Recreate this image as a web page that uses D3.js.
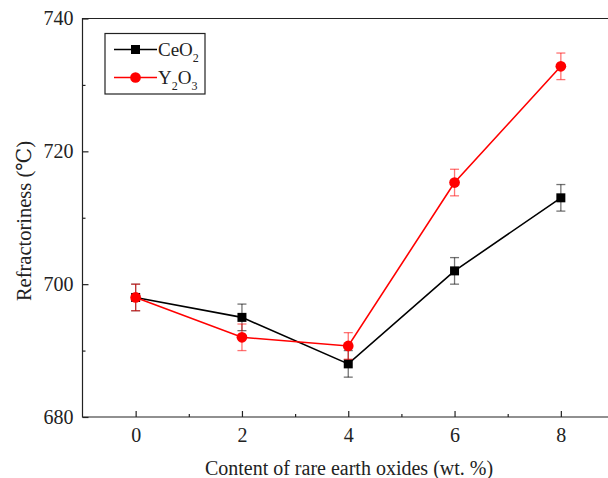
<!DOCTYPE html>
<html><head><meta charset="utf-8">
<script src="https://cdn.jsdelivr.net/npm/d3@7"></script>
<style>body{margin:0;background:#fff}svg{display:block}text{font-family:"Liberation Serif","Times New Roman","DejaVu Serif",serif !important;fill:#222}</style>
</head><body>
<script>
const xValues = [0, 2, 4, 6, 8];
const ceo2 = [698, 695, 688, 702, 713];
const ceo2Err = [2, 2, 2, 2, 2];
const y2o3 = [698, 692, 690.7, 715.3, 732.8];
const y2o3Err = [2, 2, 2, 2, 2];
const xTicks = [0, 2, 4, 6, 8];
const yTicks = [680, 700, 720, 740];

const W = 608, H = 478;
const FONT = '"Liberation Serif","Times New Roman",serif';
const svg = d3.select("body").append("svg").attr("width", W).attr("height", H);
const x = d3.scaleLinear().domain([-1, 9]).range([82.5, 614]);
const y = d3.scaleLinear().domain([680, 740]).range([417, 18.5]);

// frame
svg.append("path").attr("d", `M${x(9)},${y(740)}H${x(-1)}V${y(680)}H${x(9)}`)
  .attr("fill", "none").attr("stroke", "#222").attr("stroke-width", 1.2);

// x axis
const gx = svg.append("g").attr("transform", `translate(0,${y(680)})`)
  .call(d3.axisBottom(x).tickValues(xTicks).tickSize(-6).tickPadding(11).tickFormat(d3.format("d")));
gx.select(".domain").remove();
gx.selectAll("text").attr("font-size", 20).style("font-family", FONT);
svg.append("g").attr("transform", `translate(0,${y(680)})`)
  .call(d3.axisBottom(x).tickValues([1,3,5,7]).tickSize(-3).tickFormat(""))
  .select(".domain").remove();

// y axis
const gy = svg.append("g").attr("transform", `translate(${x(-1)},0)`)
  .call(d3.axisLeft(y).tickValues(yTicks).tickSize(-6).tickPadding(9).tickFormat(d3.format("d")));
gy.select(".domain").remove();
gy.selectAll("text").attr("font-size", 20).style("font-family", FONT);
svg.append("g").attr("transform", `translate(${x(-1)},0)`)
  .call(d3.axisLeft(y).tickValues([690,710,730]).tickSize(-3).tickFormat(""))
  .select(".domain").remove();
svg.selectAll(".tick line").attr("stroke", "#222").attr("stroke-width", 1.2);

// titles
svg.append("text").attr("x", 349).attr("y", 475).attr("text-anchor", "middle")
  .attr("font-size", 20).style("font-family", FONT).text("Content of rare earth oxides (wt. %)");
svg.append("text").attr("transform", `translate(31,${y(709.5)}) rotate(-90)`).attr("text-anchor", "middle")
  .attr("font-size", 20.5).style("font-family", FONT).text("Refractoriness (℃)");

function series(vals, errs, color, shape) {
  const data = xValues.map((d, i) => ({x: d, y: vals[i], e: errs[i]}));
  const g = svg.append("g");
  const eb = g.selectAll(".eb").data(data).join("g").attr("stroke", color).attr("stroke-opacity", 0.55).attr("stroke-width", 1.3);
  eb.append("line").attr("x1", d => x(d.x)).attr("x2", d => x(d.x)).attr("y1", d => y(d.y - d.e)).attr("y2", d => y(d.y + d.e));
  eb.append("line").attr("x1", d => x(d.x) - 4.5).attr("x2", d => x(d.x) + 4.5).attr("y1", d => y(d.y - d.e)).attr("y2", d => y(d.y - d.e));
  eb.append("line").attr("x1", d => x(d.x) - 4.5).attr("x2", d => x(d.x) + 4.5).attr("y1", d => y(d.y + d.e)).attr("y2", d => y(d.y + d.e));
  g.append("path").datum(data).attr("fill", "none").attr("stroke", color).attr("stroke-width", 1.6)
    .attr("d", d3.line().x(d => x(d.x)).y(d => y(d.y)));
  const sym = d3.symbol().type(shape).size(shape === d3.symbolSquare ? 81 : 90);
  g.selectAll(".m").data(data).join("path").attr("fill", color)
    .attr("transform", d => `translate(${x(d.x)},${y(d.y)})`).attr("d", sym);
}
series(ceo2, ceo2Err, "#000", d3.symbolSquare);
series(y2o3, y2o3Err, "#ff0000", d3.symbolCircle);

// legend
const lg = svg.append("g");
lg.append("rect").attr("x", 105).attr("y", 33.5).attr("width", 100).attr("height", 60.5)
  .attr("fill", "#fff").attr("stroke", "#222").attr("stroke-width", 1.2);
const items = [{label: "CeO", sub: "2", color: "#000", shape: d3.symbolSquare, yy: 49.5},
               {label: "Y", sub: "2", label2: "O", sub2: "3", color: "#ff0000", shape: d3.symbolCircle, yy: 77.5}];
items.forEach(it => {
  lg.append("line").attr("x1", 114).attr("x2", 157).attr("y1", it.yy).attr("y2", it.yy).attr("stroke", it.color).attr("stroke-width", 1.6);
  lg.append("path").attr("transform", `translate(135.5,${it.yy})`).attr("fill", it.color)
    .attr("d", d3.symbol().type(it.shape).size(it.shape === d3.symbolSquare ? 81 : 90)());
  const t = lg.append("text").attr("x", 158).attr("y", it.yy + 6).attr("font-size", 19).style("font-family", FONT);
  t.append("tspan").text(it.label);
  t.append("tspan").attr("font-size", 12).attr("dy", 6).text(it.sub);
  if (it.label2) {
    t.append("tspan").attr("dy", -6).text(it.label2);
    t.append("tspan").attr("font-size", 12).attr("dy", 6).text(it.sub2);
  }
});
</script>
</body></html>
